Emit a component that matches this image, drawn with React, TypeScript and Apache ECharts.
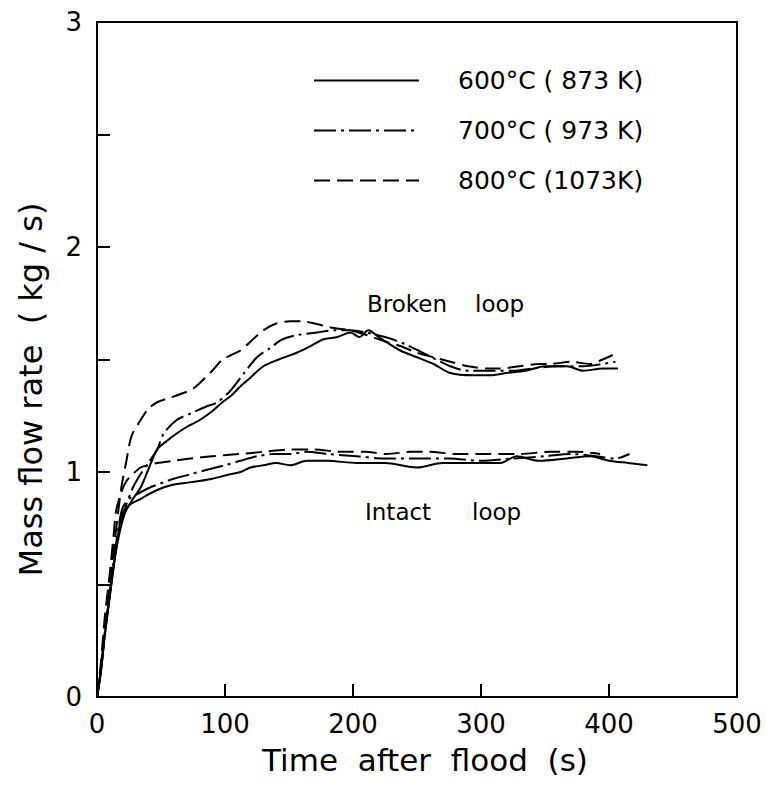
import React, { useEffect, useRef } from "react";
import * as echarts from "echarts";

// ---- Data ----
const NAME_600 = "600°C ( 873 K)";
const NAME_700 = "700°C ( 973 K)";
const NAME_800 = "800°C (1073K)";

// Broken loop
const broken600T = [0, 3, 6, 10, 14, 18, 22, 28, 34, 40, 47, 55, 62, 70, 80, 90, 98, 105, 112, 120, 130, 142, 156, 167, 177, 188, 198, 205, 212, 220, 237, 250, 263, 276, 294, 307, 320, 335, 350, 367, 380, 395, 407];
const broken600V = [0, 0.11, 0.27, 0.45, 0.62, 0.74, 0.82, 0.88, 0.93, 1.01, 1.1, 1.14, 1.17, 1.2, 1.23, 1.27, 1.31, 1.34, 1.38, 1.42, 1.47, 1.5, 1.53, 1.56, 1.59, 1.6, 1.62, 1.6, 1.63, 1.6, 1.54, 1.51, 1.48, 1.44, 1.43, 1.43, 1.44, 1.45, 1.47, 1.47, 1.45, 1.46, 1.46];

const broken700T = [0, 3, 6, 10, 14, 18, 22, 28, 34, 40, 47, 52, 62, 73, 85, 94, 104, 115, 125, 135, 145, 158, 172, 185, 198, 210, 225, 240, 258, 276, 290, 310, 325, 340, 360, 380, 395, 405];
const broken700V = [0, 0.12, 0.28, 0.46, 0.64, 0.76, 0.84, 0.93, 0.99, 1.04, 1.1, 1.17, 1.23, 1.26, 1.29, 1.31, 1.36, 1.44, 1.51, 1.55, 1.59, 1.61, 1.62, 1.63, 1.63, 1.62, 1.6, 1.57, 1.52, 1.47, 1.45, 1.45, 1.45, 1.46, 1.47, 1.47, 1.48, 1.49];

const broken800T = [0, 3, 6, 10, 14, 19, 23, 27, 34, 40, 47, 57, 67, 75, 83, 90, 98, 105, 112, 120, 130, 140, 151, 160, 170, 177, 185, 198, 210, 225, 237, 250, 263, 276, 290, 305, 315, 330, 345, 354, 370, 385, 395, 403];
const broken800V = [0, 0.12, 0.3, 0.5, 0.7, 0.93, 1.05, 1.16, 1.23, 1.28, 1.31, 1.33, 1.35, 1.37, 1.41, 1.45, 1.5, 1.52, 1.54, 1.58, 1.63, 1.66, 1.67, 1.67, 1.66, 1.65, 1.64, 1.63, 1.61, 1.58, 1.56, 1.53, 1.51, 1.49, 1.47, 1.46, 1.46, 1.47, 1.48, 1.48, 1.49, 1.48, 1.5, 1.52];

// Intact loop
const intact600T = [0, 3, 6, 10, 14, 17, 20, 27, 34, 40, 47, 57, 67, 80, 90, 104, 112, 120, 130, 140, 151, 164, 180, 203, 225, 250, 270, 289, 305, 315, 328, 345, 367, 385, 400, 415, 430];
const intact600V = [0, 0.11, 0.27, 0.45, 0.62, 0.74, 0.82, 0.86, 0.88, 0.9, 0.92, 0.94, 0.95, 0.96, 0.97, 0.99, 1.0, 1.02, 1.03, 1.04, 1.03, 1.05, 1.05, 1.04, 1.04, 1.02, 1.04, 1.04, 1.04, 1.04, 1.07, 1.05, 1.06, 1.07, 1.05, 1.04, 1.03];

const intact700T = [0, 3, 6, 10, 14, 17, 20, 25, 34, 41, 50, 60, 73, 86, 100, 112, 125, 138, 151, 164, 180, 203, 225, 250, 275, 300, 325, 350, 370, 390, 405, 416];
const intact700V = [0, 0.12, 0.28, 0.46, 0.64, 0.76, 0.84, 0.88, 0.91, 0.93, 0.95, 0.97, 0.99, 1.01, 1.03, 1.05, 1.07, 1.08, 1.08, 1.09, 1.08, 1.07, 1.06, 1.06, 1.06, 1.05, 1.06, 1.07, 1.08, 1.07, 1.06, 1.08];

const intact800T = [0, 3, 6, 10, 13, 15, 19, 23, 28, 34, 40, 47, 60, 73, 90, 112, 130, 151, 170, 190, 210, 226, 245, 260, 280, 305, 330, 354, 375, 393];
const intact800V = [0, 0.15, 0.35, 0.55, 0.72, 0.83, 0.91, 0.96, 0.99, 1.02, 1.03, 1.04, 1.05, 1.06, 1.07, 1.08, 1.09, 1.1, 1.1, 1.09, 1.09, 1.08, 1.09, 1.09, 1.08, 1.08, 1.08, 1.09, 1.09, 1.08];

const xTicks = { min: 0, max: 500, interval: 100 };
const yTicks = { min: 0, max: 3, interval: 0.5 };

const FONT = "DejaVu Sans";
const SOLID: any = "solid";
const DASHDOT: any = [22, 5, 3, 5];
const DASHED: any = [16, 7];

const zip = (t: number[], v: number[]) => t.map((x, i) => [x, v[i]]);

function lineSeries(name: string, t: number[], v: number[], type: any) {
  return {
    type: "line",
    name,
    data: zip(t, v),
    showSymbol: false,
    symbol: "none",
    smooth: 0.3,
    lineStyle: { color: "#000", width: 2, type },
    itemStyle: { color: "#000" },
    silent: true,
  };
}

export default function App() {
  const ref = useRef<HTMLDivElement>(null);
  useEffect(() => {
    if (!ref.current) return;
    const chart = echarts.init(ref.current, undefined, { renderer: "svg" });
    chart.setOption({
      animation: false,
      backgroundColor: "#fff",
      textStyle: { fontFamily: FONT, color: "#000" },
      grid: {
        left: 97,
        right: 29,
        top: 22,
        bottom: 94,
        show: true,
        borderColor: "#000",
        borderWidth: 2,
        backgroundColor: "transparent",
      },
      legend: {
        data: [NAME_600, NAME_700, NAME_800],
        orient: "vertical",
        left: 313,
        top: 68,
        padding: 0,
        itemWidth: 105,
        itemHeight: 26,
        itemGap: 25,
        selectedMode: false,
        itemStyle: { color: "transparent", borderWidth: 0, opacity: 0 },
        textStyle: {
          fontFamily: FONT,
          fontSize: 25,
          color: "#000",
          padding: [0, 0, 0, 34],
        },
      },
      xAxis: {
        type: "value",
        min: xTicks.min,
        max: xTicks.max,
        interval: xTicks.interval,
        name: "Time  after  flood  (s)",
        nameLocation: "middle",
        nameGap: 47,
        nameTextStyle: {
          fontFamily: FONT,
          fontSize: 31,
          color: "#000",
          padding: [0, 0, 0, 16],
        },
        axisLine: { show: true, lineStyle: { color: "#000", width: 2 } },
        axisTick: { show: true, inside: true, length: 13, lineStyle: { color: "#000", width: 2 } },
        axisLabel: { fontFamily: FONT, fontSize: 26, color: "#000", margin: 14 },
        splitLine: { show: false },
      },
      yAxis: {
        type: "value",
        min: yTicks.min,
        max: yTicks.max,
        interval: yTicks.interval,
        name: "Mass flow rate  ( kg / s)",
        nameLocation: "middle",
        nameGap: 50,
        nameTextStyle: {
          fontFamily: FONT,
          fontSize: 32,
          color: "#000",
          padding: [0, 60, 0, 0],
        },
        axisLine: { show: true, lineStyle: { color: "#000", width: 2 } },
        axisTick: { show: true, inside: true, length: 13, lineStyle: { color: "#000", width: 2 } },
        axisLabel: {
          fontFamily: FONT,
          fontSize: 26,
          color: "#000",
          margin: 15,
          formatter: (v: number) => (Math.abs(v - Math.round(v)) < 1e-9 ? String(Math.round(v)) : ""),
        },
        splitLine: { show: false },
      },
      graphic: [
        { type: "text", x: 367, y: 304, style: { text: "Broken", font: `23px '${FONT}'`, fill: "#000", verticalAlign: "middle" } },
        { type: "text", x: 475, y: 304, style: { text: "loop", font: `23px '${FONT}'`, fill: "#000", verticalAlign: "middle" } },
        { type: "text", x: 365, y: 512, style: { text: "Intact", font: `23px '${FONT}'`, fill: "#000", verticalAlign: "middle" } },
        { type: "text", x: 472, y: 512, style: { text: "loop", font: `23px '${FONT}'`, fill: "#000", verticalAlign: "middle" } },
      ],
      series: [
        lineSeries(NAME_600, broken600T, broken600V, SOLID),
        lineSeries(NAME_700, broken700T, broken700V, DASHDOT),
        lineSeries(NAME_800, broken800T, broken800V, DASHED),
        lineSeries(NAME_600, intact600T, intact600V, SOLID),
        lineSeries(NAME_700, intact700T, intact700V, DASHDOT),
        lineSeries(NAME_800, intact800T, intact800V, DASHED),
      ],
    });
    return () => chart.dispose();
  }, []);
  return (
    <div
      ref={ref}
      style={{ position: "absolute", left: 0, top: 0, width: 766, height: 791, background: "#fff" }}
    />
  );
}
